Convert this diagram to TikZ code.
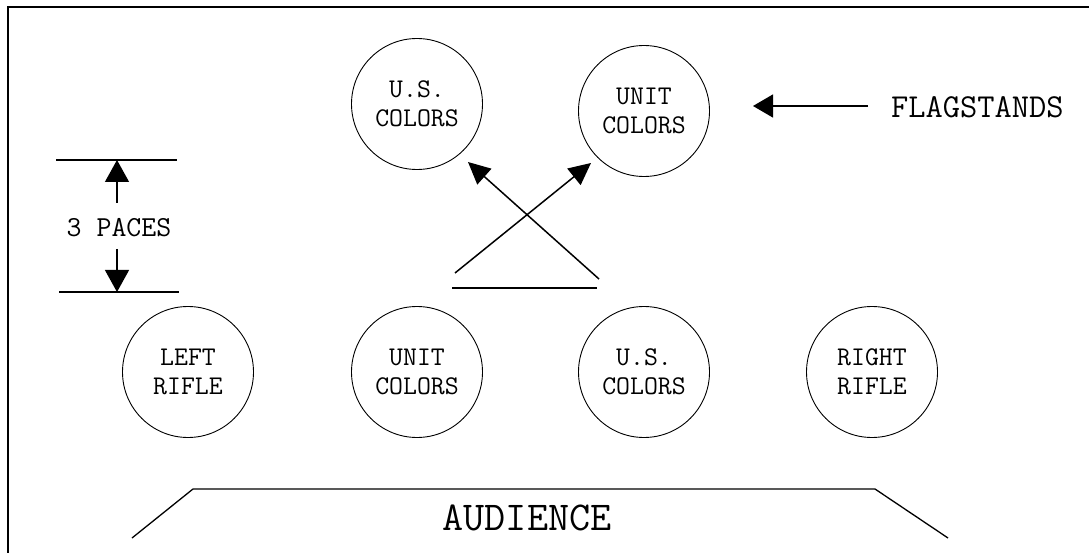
\documentclass[tikz,border=0pt]{standalone}
\usepackage{fontspec}
\usetikzlibrary{arrows.meta}
\tikzset{
  post/.style={circle, draw, line width=0.9pt, minimum size=131pt, inner sep=0pt, align=center,
    font=\ttfamily\fontsize{27}{29}\selectfont},
  lbl/.style={font=\ttfamily\fontsize{29}{30}\selectfont, inner sep=0pt},
  ln/.style={line width=1.3pt},
  arr/.style={line width=1.5pt, -{Triangle[length=22pt,width=21pt]}},
}
\begin{document}
\begin{tikzpicture}[x=1pt,y=-1pt]
\useasboundingbox (0,0) rectangle (1089,553);
% frame
\draw[line width=1.3pt] (8,553) -- (8,7) -- (1089,7);
% top flagstands
\node[post] (tus) at (417,104) {U.S.\\COLORS};
\node[post] (tunit) at (644,111) {UNIT\\COLORS};
% bottom row
\node[post] (lr) at (188,372) {LEFT\\RIFLE};
\node[post] (bunit) at (417,372) {UNIT\\COLORS};
\node[post] (bus) at (644,372) {U.S.\\COLORS};
\node[post] (rr) at (872,372) {RIGHT\\RIFLE};
% crossing arrows
\coordinate (a1s) at (455,273);
\coordinate (a1e) at (591,163);
\coordinate (a2s) at (599,279);
\coordinate (a2e) at (468,162);
\draw[arr] (a1s) -- (a1e);
\draw[arr] (a2s) -- (a2e);
\coordinate (hl) at (452,288);
\coordinate (hr) at (597,288);
\draw[ln] (hl) -- (hr);
% flagstands label
\node[lbl, anchor=west, font=\ttfamily\fontsize{33.5}{34}\selectfont] (fs) at (891,107) {FLAGSTANDS};
\coordinate (fsa) at (868,106);
\coordinate (fsb) at (753,106);
\draw[line width=1.3pt, -{Triangle[length=20pt,width=23pt]}] (fsa) -- (fsb);
% 3 paces
\coordinate (t1) at (56,160);
\coordinate (t2) at (177,160);
\coordinate (b1) at (59,292);
\coordinate (b2) at (179,292);
\draw[ln] (t1) -- (t2);
\draw[ln] (b1) -- (b2);
\node[lbl] (paces) at (119,228) {3 PACES};
\coordinate (ut) at (117,160);
\coordinate (dt) at (117,292);
\draw[line width=1.3pt, -{Triangle[length=22pt,width=24pt]}] (117,203) -- (ut);
\draw[line width=1.3pt, -{Triangle[length=22pt,width=24pt]}] (117,249) -- (dt);
% audience
\coordinate (al) at (132,538);
\coordinate (atl) at (193,489);
\coordinate (atr) at (875,489);
\coordinate (ar) at (948,538);
\draw[ln] (al) -- (atl) -- (atr) -- (ar);
\node[font=\ttfamily\fontsize{41}{44}\selectfont, inner sep=0pt] (aud) at (527,518) {AUDIENCE};
\end{tikzpicture}
\end{document}
